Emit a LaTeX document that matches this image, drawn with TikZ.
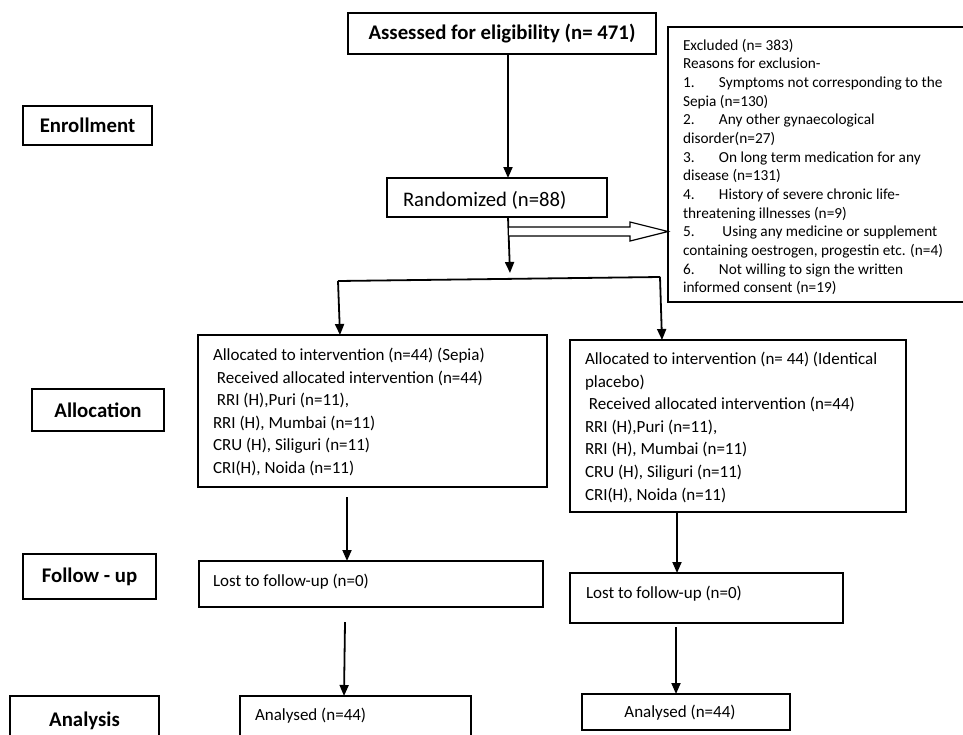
\documentclass[tikz,border=0pt]{standalone}
\usepackage{fontspec}
\setmainfont{Carlito}
\usetikzlibrary{arrows.meta}
\tikzset{
  box/.style={draw, line width=1.4pt, anchor=north west, inner sep=0pt, outer sep=0pt},
  lab/.style={box, font=\fontsize{20.8}{25}\selectfont\bfseries},
  txt/.style={anchor=base west, inner sep=0pt, outer sep=0pt, font=\fontsize{17}{22.6}\selectfont},
  smalltxt/.style={anchor=base west, inner sep=0pt, outer sep=0pt, font=\fontsize{15.3}{18.67}\selectfont},
  arr/.style={-{Triangle[width=9pt,length=11pt]}, line width=1.8pt},
  plainline/.style={line width=1.8pt},
  hollow/.style={draw, line width=1.2pt, fill=white, line join=miter},
}
\newcommand{\numitem}[1]{\makebox[36pt][l]{#1}}
\begin{document}
\begin{tikzpicture}[x=1pt,y=-1pt]
\useasboundingbox (0,0) rectangle (963,734);

% stage labels
\node[lab, minimum width=129pt, minimum height=39pt] (enr) at (23,106) {Enrollment};
\node[lab, minimum width=132pt, minimum height=42pt] (alc) at (32,389) {Allocation};
\node[lab, minimum width=133pt, minimum height=45pt] (fol) at (23,554) {Follow - up};
\node[lab, minimum width=149pt, minimum height=50pt] (ana) at (10,696) {Analysis};

% boxes
\node[lab, minimum width=308pt, minimum height=41pt] (A) at (348,13) {Assessed for eligibility (n= 471)};
\node[box, minimum width=220pt, minimum height=39pt] (R) at (387,178) {};
\node[box, draw=none, minimum width=340pt, minimum height=275pt] (E) at (668,27) {};
\draw[line width=1.4pt] (E.north east) -- (E.north west) -- (E.south west) -- (E.south east);
\node[box, minimum width=349pt, minimum height=152pt] (LA) at (198,335) {};
\node[box, minimum width=336pt, minimum height=172pt] (RA) at (570,340) {};
\node[box, minimum width=344pt, minimum height=46pt] (LF) at (199,561) {};
\node[box, minimum width=273pt, minimum height=50pt] (RF) at (570,573) {};
\node[box, minimum width=231pt, minimum height=50pt] (LN) at (240,696) {};
\node[box, minimum width=208pt, minimum height=36pt] (RN) at (582,694) {};

% texts
\node[txt, font=\fontsize{20.7}{25}\selectfont] (Rt) at (403,206) {Randomized (n=88)};
\node[smalltxt] (Et) at (683,50) {\vtop{\baselineskip=18.67pt
  \hbox{Excluded (n= 383)}
  \hbox{Reasons for exclusion-}
  \hbox{\numitem{1.}Symptoms not corresponding to the}
  \hbox{Sepia (n=130)}
  \hbox{\numitem{2.}Any other gynaecological}
  \hbox{disorder(n=27)}
  \hbox{\numitem{3.}On long term medication for any}
  \hbox{disease (n=131)}
  \hbox{\numitem{4.}History of severe chronic life-}
  \hbox{threatening illnesses (n=9)}
  \hbox{\numitem{5.}\ Using any medicine or supplement}
  \hbox{containing oestrogen, progestin etc. (n=4)}
  \hbox{\numitem{6.}Not willing to sign the written}
  \hbox{informed consent (n=19)}}};
\node[txt] (LAt) at (213,360.5) {\vtop{\baselineskip=22.6pt
  \hbox{Allocated to intervention (n=44) (Sepia)}
  \hbox{\ Received allocated intervention (n=44)}
  \hbox{\ RRI (H),Puri (n=11),}
  \hbox{RRI (H), Mumbai (n=11)}
  \hbox{CRU (H), Siliguri (n=11)}
  \hbox{CRI(H), Noida (n=11)}}};
\node[txt] (RAt) at (585,364.5) {\vtop{\baselineskip=22.6pt
  \hbox{Allocated to intervention (n= 44) (Identical}
  \hbox{placebo)}
  \hbox{\ Received allocated intervention (n=44)}
  \hbox{RRI (H),Puri (n=11),}
  \hbox{RRI (H), Mumbai (n=11)}
  \hbox{CRU (H), Siliguri (n=11)}
  \hbox{CRI(H), Noida (n=11)}}};
\node[txt] (LFt) at (213,586.5) {Lost to follow-up (n=0)};
\node[txt] (RFt) at (586,598.5) {Lost to follow-up (n=0)};
\node[txt] (LNt) at (255,720.5) {Analysed (n=44)};
\node[txt, anchor=base] (RNt) at (680,717.5) {Analysed (n=44)};

% connectors
\coordinate (rt) at (510,273);
\coordinate (sl) at (338,281);
\coordinate (sr) at (660,277);
\coordinate (hs) at (509,231.5);

\draw[arr] ([xshift=160pt]A.south west) -- ([xshift=121pt]R.north west);
\draw[arr] ([xshift=121pt]R.south west) -- (rt);
\draw[plainline] (sl) -- (sr);
\draw[arr] (sl) -- ([xshift=142pt]LA.north west);
\draw[arr] (sr) -- ([xshift=92pt]RA.north west);

\draw[hollow] ([yshift=4.5pt]hs) -- ([yshift=4.5pt]hs -| 630,0) -- ([yshift=9.5pt]hs -| 630,0)
  -- (hs -| E.west) -- ([yshift=-9.5pt]hs -| 630,0) -- ([yshift=-4.5pt]hs -| 630,0) -- ([yshift=-4.5pt]hs);

\draw[arr] ([xshift=149pt,yshift=-10pt]LA.south west) -- ([xshift=148pt]LF.north west);
\draw[arr] ([xshift=146pt,yshift=-15pt]LF.south west) -- ([xshift=104pt]LN.north west);
\draw[arr] ([xshift=107pt]RA.south west) -- ([xshift=107pt]RF.north west);
\draw[arr] ([xshift=106pt,yshift=-4pt]RF.south west) -- ([xshift=94pt]RN.north west);
\end{tikzpicture}
\end{document}
